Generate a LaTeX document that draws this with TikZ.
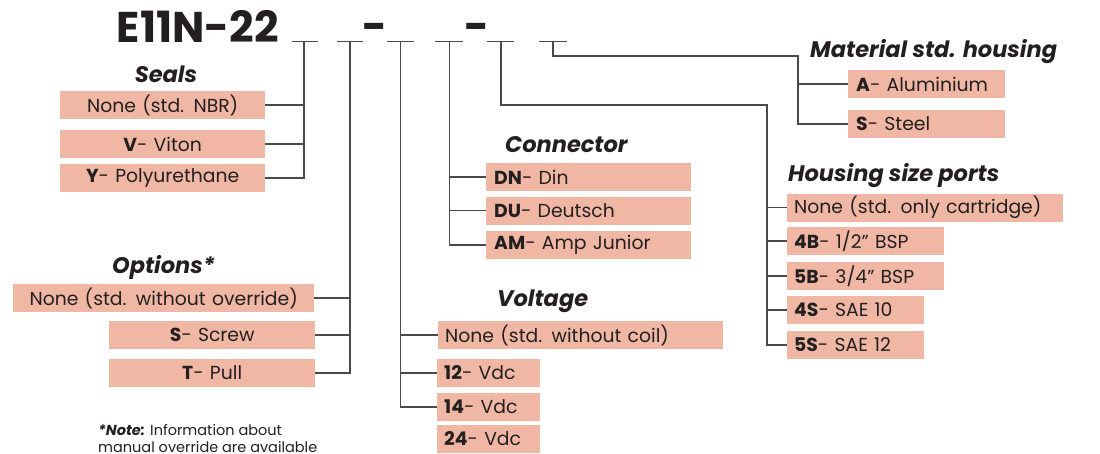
\documentclass[tikz,border=0pt]{standalone}
\usepackage{fontspec}
\setmainfont{Poppins}
\definecolor{boxc}{HTML}{F0B8A4}
\definecolor{txt}{HTML}{231F20}
\definecolor{linec}{HTML}{4A4A4A}
\newcommand\fbody{\fontsize{18.8}{21}\selectfont}
\newcommand\fhead{\fontsize{22.5}{26}\selectfont\bfseries\itshape}
\newcommand\fnote{\fontsize{14.5}{17}\selectfont}
\newcommand\ftitle{\fontsize{43}{50}\selectfont\bfseries}
\tikzset{
  ln/.style={draw=linec, line width=1.1pt},
  lbox/.style={fill=boxc, text=txt, font=\fbody, inner xsep=8pt, inner ysep=0pt,
    minimum height=28pt, text width=#1, align=left, anchor=west},
  cbox/.style={fill=boxc, text=txt, font=\fbody, inner xsep=0pt, inner ysep=0pt,
    minimum height=28pt, text width=#1, align=center, anchor=west},
  head/.style={text=txt, font=\fhead, inner sep=0pt},
}
\begin{document}
\begin{tikzpicture}[x=1pt,y=-1pt]
\useasboundingbox (0,0) rectangle (1100,453);

% code title
\node[text=txt, font=\ftitle, inner sep=0pt, anchor=base east] (code) at (279,42) {E11N-22};
\node[text=txt, font=\ftitle, inner sep=0pt, anchor=base] (dash1) at (374.5,41) {-};
\node[text=txt, font=\ftitle, inner sep=0pt, anchor=base] (dash2) at (476.5,41) {-};

% underline slots
\draw[ln] (292,41.5) -- (318,41.5);
\draw[ln] (337,41.5) -- (363,41.5);
\draw[ln] (387,41.5) -- (414,41.5);
\draw[ln] (435,41.5) -- (463,41.5);
\draw[ln] (487,41.5) -- (514,41.5);
\draw[ln] (539,41.5) -- (567,41.5);
\coordinate (u1) at (304,41.5);
\coordinate (u2) at (350,41.5);
\coordinate (u3) at (400.5,41.5);
\coordinate (u4) at (449.5,41.5);
\coordinate (u5) at (501,41.5);
\coordinate (u6) at (553,41.5);
\coordinate (hk) at (767,105);
\coordinate (mk) at (798,56);

% Seals
\node[head, anchor=base] (hs) at (166,82) {Seals};
\node[cbox=205pt] (s1) at (60,105) {None (std. NBR)};
\node[cbox=205pt] (s2) at (60,144) {\textbf{V}- Viton};
\node[cbox=205pt] (s3) at (60,178) {\textbf{Y}- Polyurethane};

% Options
\node[head, anchor=base] (ho) at (163.5,273) {Options*};
\node[cbox=301pt] (o1) at (13,298) {None (std. without override)};
\node[cbox=206pt] (o2) at (109,335) {\textbf{S}- Screw};
\node[cbox=206pt] (o3) at (109,373) {\textbf{T}- Pull};

% Note
\node[text=txt, font=\fnote, inner sep=0pt, anchor=base west] (note1) at (98,435) {\textbf{\itshape *Note:} Information about};
\node[text=txt, font=\fnote, inner sep=0pt, anchor=base west] (note2) at (98,452) {manual override are available};

% Connector
\node[head, anchor=base west] (hc) at (505,152) {Connector};
\node[lbox=189pt] (c1) at (486,177) {\textbf{DN}- Din};
\node[lbox=189pt] (c2) at (486,210.5) {\textbf{DU}- Deutsch};
\node[lbox=189pt] (c3) at (486,245) {\textbf{AM}- Amp Junior};

% Voltage
\node[head, anchor=base west] (hv) at (497,306) {Voltage};
\node[lbox=271pt, inner xsep=7pt] (v1) at (438,335) {None (std. without coil)};
\node[lbox=89pt, inner xsep=7pt] (v2) at (437,373) {\textbf{12}- Vdc};
\node[lbox=89pt, inner xsep=7pt] (v3) at (437,407) {\textbf{14}- Vdc};
\node[lbox=89pt, inner xsep=7pt] (v4) at (437,439) {\textbf{24}- Vdc};

% Housing size ports
\node[head, anchor=base west] (hh) at (788,181) {Housing size ports};
\node[lbox=262pt, inner xsep=7pt] (h1) at (787,207.5) {None (std. only cartridge)};
\node[lbox=143pt, inner xsep=7pt] (h2) at (787,241) {\textbf{4B}- 1/2” BSP};
\node[lbox=143pt, inner xsep=7pt] (h3) at (787,276) {\textbf{5B}- 3/4” BSP};
\node[lbox=123pt, inner xsep=7pt] (h4) at (787,310) {\textbf{4S}- SAE 10};
\node[lbox=123pt, inner xsep=7pt] (h5) at (787,345) {\textbf{5S}- SAE 12};

% Material
\node[head, anchor=base west] (hm) at (810,57) {Material std. housing};
\node[lbox=141pt] (m1) at (848,84) {\textbf{A}- Aluminium};
\node[lbox=141pt] (m2) at (848,124) {\textbf{S}- Steel};

% connectors
\draw[ln] (u1) |- (s3.east);
\draw[ln] (s1.east) -- (s1.east -| u1);
\draw[ln] (s2.east) -- (s2.east -| u1);

\draw[ln] (u2) |- (o3.east);
\draw[ln] (o1.east) -- (o1.east -| u2);
\draw[ln] (o2.east) -- (o2.east -| u2);

\draw[ln] (u3) |- (v3.west);
\draw[ln] (v1.west) -- (v1.west -| u3);
\draw[ln] (v2.west) -- (v2.west -| u3);

\draw[ln] (u4) |- (c3.west);
\draw[ln] (c1.west) -- (c1.west -| u4);
\draw[ln] (c2.west) -- (c2.west -| u4);

\draw[ln] (u5) |- (hk) |- (h5.west);
\draw[ln] (h1.west) -- (h1.west -| hk);
\draw[ln] (h2.west) -- (h2.west -| hk);
\draw[ln] (h3.west) -- (h3.west -| hk);
\draw[ln] (h4.west) -- (h4.west -| hk);

\draw[ln] (u6) |- (mk) |- (m2.west);
\draw[ln] (m1.west) -- (m1.west -| mk);
\end{tikzpicture}
\end{document}
